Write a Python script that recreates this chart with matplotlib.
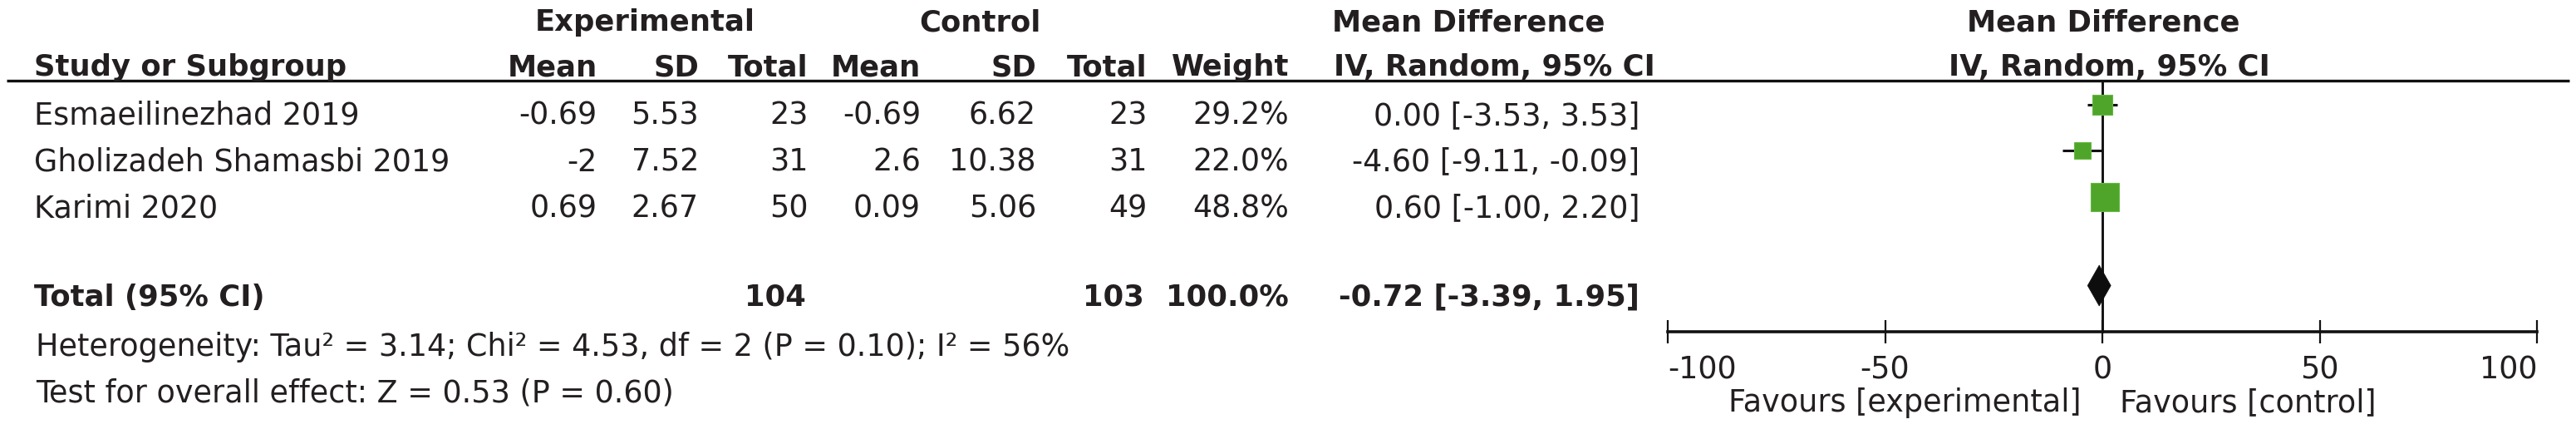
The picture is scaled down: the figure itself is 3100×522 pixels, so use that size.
import numpy as np
import matplotlib
matplotlib.use("Agg")
import matplotlib.pyplot as plt
from matplotlib.patches import Polygon

# ---------------- data ----------------
studies = ["Esmaeilinezhad 2019", "Gholizadeh Shamasbi 2019", "Karimi 2020"]
exp_mean = [-0.69, -2, 0.69]
exp_sd = [5.53, 7.52, 2.67]
exp_n = [23, 31, 50]
ctl_mean = [-0.69, 2.6, 0.09]
ctl_sd = [6.62, 10.38, 5.06]
ctl_n = [23, 31, 49]
weights = [29.2, 22.0, 48.8]
md = [0.00, -4.60, 0.60]
ci_lo = [-3.53, -9.11, -1.00]
ci_hi = [3.53, -0.09, 2.20]
total_exp = 104
total_ctl = 103
total_weight = 100.0
total_md = -0.72
total_lo = -3.39
total_hi = 1.95
heterogeneity = "Heterogeneity: Tau² = 3.14; Chi² = 4.53, df = 2 (P = 0.10); I² = 56%"
overall = "Test for overall effect: Z = 0.53 (P = 0.60)"
x_ticks = [-100, -50, 0, 50, 100]
x_tick_labels = ["-100", "-50", "0", "50", "100"]
favours_left = "Favours [experimental]"
favours_right = "Favours [control]"

# ---------------- style / layout ----------------
W, H = 3100, 522
TXT = "#231f20"
GREEN = "#4fa529"
GREEN_EDGE = "#66b844"
FAM = ["DejaVu Sans"]
FS = 26.3
FSB = 25.5
plt.rcParams["axes.unicode_minus"] = False
plt.rcParams["font.family"] = FAM

fig = plt.figure(figsize=(W / 100, H / 100), dpi=100)
fig.patch.set_facecolor("white")
tax = fig.add_axes([0, 0, 1, 1])
tax.set_xlim(0, W)
tax.set_ylim(H, 0)
tax.axis("off")

def t(x, y, s, ha="left", bold=False):
    tax.text(x, y, s, ha=ha, va="baseline", color=TXT,
             fontsize=FSB if bold else FS,
             fontweight="bold" if bold else "normal")

# header
H1, H2 = 37, 91
t(776, H1, "Experimental", ha="center", bold=True)
t(1179, H1, "Control", ha="center", bold=True)
t(1603, H1, "Mean Difference", bold=True)
t(2531, H1, "Mean Difference", ha="center", bold=True)

COL = dict(name=41, em=719, esd=841, en=973, cm=1108, csd=1247, cn=1381,
           w=1551, ci=1973)
t(COL["name"], H2, "Study or Subgroup", bold=True)
t(COL["em"], H2, "Mean", ha="right", bold=True)
t(COL["esd"], H2, "SD", ha="right", bold=True)
t(COL["en"], H2, "Total", ha="right", bold=True)
t(COL["cm"], H2, "Mean", ha="right", bold=True)
t(COL["csd"], H2, "SD", ha="right", bold=True)
t(COL["cn"], H2, "Total", ha="right", bold=True)
t(COL["w"], H2, "Weight", ha="right", bold=True)
t(1605, H2, "IV, Random, 95% CI", bold=True)
t(2538, H2, "IV, Random, 95% CI", ha="center", bold=True)

tax.plot([8, 3092], [97, 97], color="#111111", lw=2.4, solid_capstyle="butt")

# study rows
ROW0, ROWH = 150, 55.5
row_base = [ROW0 + i * ROWH for i in range(len(studies))]
for i, yb in enumerate(row_base):
    t(COL["name"], yb, studies[i])
    t(COL["em"], yb, f"{exp_mean[i]:g}", ha="right")
    t(COL["esd"], yb, f"{exp_sd[i]:g}", ha="right")
    t(COL["en"], yb, f"{exp_n[i]}", ha="right")
    t(COL["cm"], yb, f"{ctl_mean[i]:g}", ha="right")
    t(COL["csd"], yb, f"{ctl_sd[i]:g}", ha="right")
    t(COL["cn"], yb, f"{ctl_n[i]}", ha="right")
    t(COL["w"], yb, f"{weights[i]:.1f}%", ha="right")
    t(COL["ci"], yb, f"{md[i]:.2f} [{ci_lo[i]:.2f}, {ci_hi[i]:.2f}]", ha="right")

TOT = 368
t(COL["name"], TOT, "Total (95% CI)", bold=True)
t(970, TOT, f"{total_exp}", ha="right", bold=True)
t(1377, TOT, f"{total_ctl}", ha="right", bold=True)
t(COL["w"], TOT, f"{total_weight:.1f}%", ha="right", bold=True)
t(COL["ci"], TOT, f"{total_md:.2f} [{total_lo:.2f}, {total_hi:.2f}]", ha="right", bold=True)
t(43, 428, heterogeneity)
t(43, 483, overall)

# ---------------- forest panel ----------------
X0, X1 = 2007, 3053
fax = fig.add_axes([X0 / W, 0, (X1 - X0) / W, 1])
fax.set_xlim(-100, 100)
fax.set_ylim(H, 0)
fax.patch.set_alpha(0)
for s in ["top", "left", "right"]:
    fax.spines[s].set_visible(False)
AXIS_Y = 399
fax.spines["bottom"].set_position(("data", AXIS_Y))
fax.spines["bottom"].set_linewidth(2.6)
fax.spines["bottom"].set_color("#111111")
fax.set_yticks([])
fax.set_xticks(x_ticks)
fax.set_xticklabels(x_tick_labels)
fax.tick_params(axis="x", direction="inout", length=20, width=1.6,
                color="#111111", pad=10, labelsize=FS, labelcolor=TXT)
lbls = fax.get_xticklabels()
lbls[0].set_ha("left")
lbls[-1].set_ha("right")

# zero line
fax.plot([0, 0], [97, AXIS_Y], color="#111111", lw=2.1, zorder=1)

MARK_OFF = 24.5
px_per_unit = (X1 - X0) / 200.0
for i, yb in enumerate(row_base):
    yc = yb - MARK_OFF
    fax.plot([ci_lo[i], ci_hi[i]], [yc, yc], color="#111111", lw=2.2,
             solid_capstyle="butt", zorder=2)
    side_px = 6.4 * np.sqrt(weights[i]) - 11.0
    fax.plot([md[i]], [yc], marker="s", markersize=side_px * 0.72,
             markerfacecolor=GREEN, markeredgecolor=GREEN_EDGE,
             markeredgewidth=0.8, linestyle="none", zorder=3)

yd = TOT - MARK_OFF
half_h = 24.5
diamond = Polygon([[total_lo, yd], [total_md, yd - half_h],
                   [total_hi, yd], [total_md, yd + half_h]],
                  closed=True, facecolor="#0d0d0d", edgecolor="#0d0d0d",
                  lw=0.5, zorder=3)
fax.add_patch(diamond)

tax.text(2505, 495, favours_left, ha="right", va="baseline", color=TXT, fontsize=FS)
tax.text(2551, 495, favours_right, ha="left", va="baseline", color=TXT, fontsize=FS)

fig.savefig("out.png", dpi=100, facecolor="white")
